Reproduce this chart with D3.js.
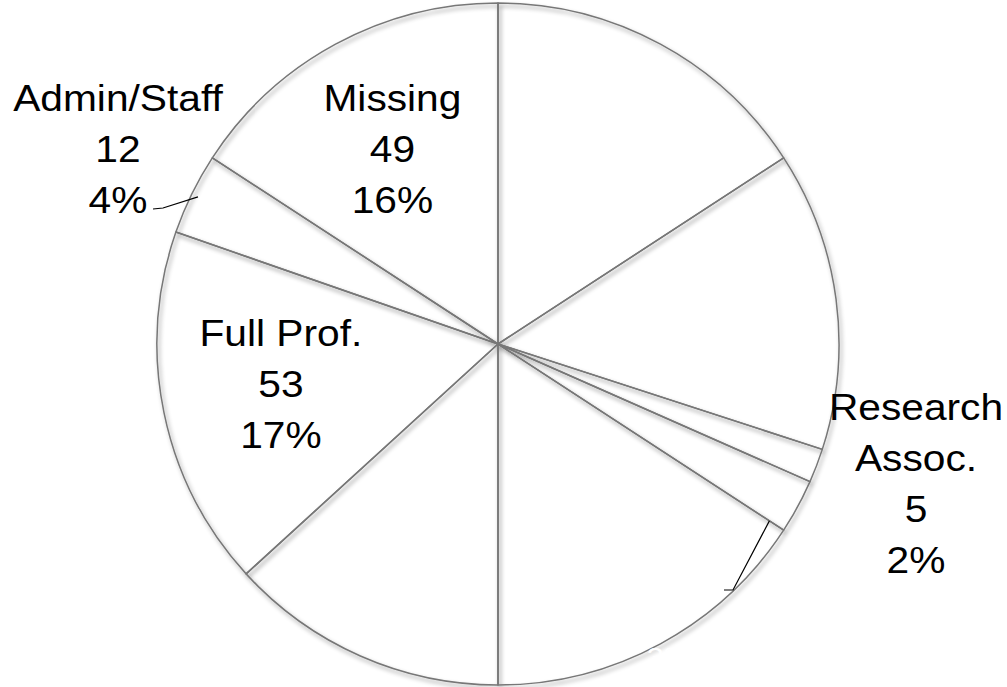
<!DOCTYPE html>
<html>
<head>
<meta charset="utf-8">
<script src="https://cdn.jsdelivr.net/npm/d3@7"></script>
<style>
  body { margin: 0; background: #fff; }
  text { font-family: "Liberation Sans", Arial, sans-serif; }
</style>
</head>
<body>
<div id="chart"></div>
<script>
// categories in the order they go round the pie, clockwise from 12 o'clock
const categories = ["Assoc. Prof.", "Asst. Prof.", "Research Assoc.", "Postdoc", "Student", "Other", "Full Prof.", "Admin/Staff", "Missing"];
const counts = [49, 44, 5, 8, 49, 41, 53, 12, 49];
// only these labels show up dark in the original, the rest are white on white
const darkLabels = ["Research Assoc.", "Full Prof.", "Admin/Staff", "Missing"];

try {
  const width = 1007, height = 687;
  const cx = 498, cy = 344, radius = 341;

  const svg = d3.select("#chart")
    .append("svg")
      .attr("width", width)
      .attr("height", height);

  const defs = svg.append("defs");
  const shadow = defs.append("filter")
    .attr("id", "shadow")
    .attr("x", "-10%").attr("y", "-10%")
    .attr("width", "120%").attr("height", "120%");
  shadow.append("feDropShadow")
    .attr("dx", 2).attr("dy", 3)
    .attr("stdDeviation", 2)
    .attr("flood-color", "#000")
    .attr("flood-opacity", 0.42);

  const data = categories.map((c, i) => ({category: c, count: counts[i]}));
  const total = d3.sum(counts);

  const pie = d3.pie().sort(null).value(d => d.count);
  const arcs = pie(data);

  const arc = d3.arc().innerRadius(0).outerRadius(radius);
  const labelArc = d3.arc().innerRadius(radius * 0.65).outerRadius(radius * 0.65);

  const g = svg.append("g").attr("transform", `translate(${cx},${cy})`);

  g.append("g").selectAll("path.fill")
    .data(arcs)
    .join("path")
      .attr("class", "fill")
      .attr("d", arc)
      .attr("fill", "#fff");

  g.append("g")
    .attr("filter", "url(#shadow)")
    .selectAll("path.edge")
    .data(arcs)
    .join("path")
      .attr("class", "edge")
      .attr("d", arc)
      .attr("fill", "none")
      .attr("stroke", "#777")
      .attr("stroke-width", 1.5)
      .attr("stroke-linejoin", "round");

  // point on a ray from the centre, angle measured clockwise from 12 o'clock
  const polar = (a, r) => [r * Math.sin(a), -r * Math.cos(a)];

  // where each label block is centred, relative to the pie centre
  function labelPos(d) {
    const c = labelArc.centroid(d);
    switch (d.data.category) {
      case "Admin/Staff": return [-380, -195];
      case "Research Assoc.": return [418, 140];
      case "Postdoc": return [171, 275];
      case "Student": return [90, 175];
      case "Assoc. Prof.": return [c[0] + 25, c[1]];
      case "Full Prof.": return [c[0], c[1] - 5];
      default: return c;
    }
  }

  const wrap = name => name === "Research Assoc." ? ["Research", "Assoc."] : [name];

  arcs.forEach(d => {
    const [lx, ly] = labelPos(d);
    const lines = wrap(d.data.category).concat([
      String(d.data.count),
      Math.round(d.data.count / total * 100) + "%"
    ]);
    const dark = darkLabels.includes(d.data.category);
    const size = dark ? 37 : 28;
    const gap = dark ? 51 : 38;
    const firstBase = ly - (lines.length - 1) / 2 * gap + size * 0.35;

    const t = g.append("text")
      .attr("transform", `translate(${lx},${firstBase}) scale(1.1,1)`)
      .attr("text-anchor", "middle")
      .attr("font-size", size + "px")
      .attr("fill", dark ? "#000" : "#fff");
    lines.forEach((s, i) => {
      t.append("tspan").attr("x", 0).attr("dy", i === 0 ? 0 : gap).text(s);
    });
  });

  // leader lines for the two labels Excel pulled away from their slices
  const leader = d3.line();
  const admin = arcs.find(d => d.data.category === "Admin/Staff");
  const adminEnd = polar((admin.startAngle + admin.endAngle) / 2, radius * 0.98);
  g.append("path")
    .attr("d", leader([[-345, -135], [-335, -136], adminEnd]))
    .attr("fill", "none")
    .attr("stroke", "#000")
    .attr("stroke-width", 1.2);

  const postdoc = arcs.find(d => d.data.category === "Postdoc");
  const postdocEnd = polar(postdoc.endAngle, radius * 0.95);
  g.append("path")
    .attr("d", leader([[226, 246], [235, 246], postdocEnd]))
    .attr("fill", "none")
    .attr("stroke", "#000")
    .attr("stroke-width", 1.2);
} catch (err) {
  console.error("Render error:", err);
}
</script>
</body>
</html>
